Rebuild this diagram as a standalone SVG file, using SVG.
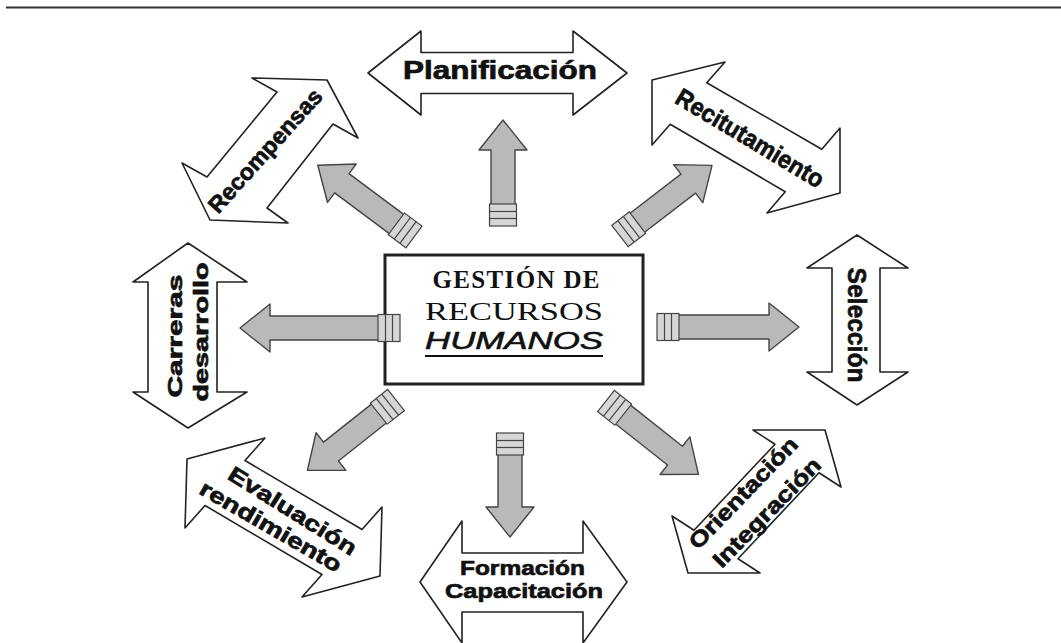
<svg xmlns="http://www.w3.org/2000/svg" xmlns:xlink="http://www.w3.org/1999/xlink" width="1061" height="643" viewBox="0 0 1061 643">
  <style>
    .ring { fill:#fff; stroke:#222; stroke-width:1.6; stroke-linejoin:round; }
    .lbl { font-family:"Liberation Sans", Arial, sans-serif; font-weight:bold; fill:#111; stroke:#111; stroke-width:0.7; }
    .feed { fill:#b9b9b9; stroke:#444; stroke-width:1.4; stroke-linejoin:round; }
    .tail { fill:#d6d6d6; stroke:#444; stroke-width:1.2; }
    .hubtxt { font-family:"Liberation Serif", "Times New Roman", serif; fill:#111; }
  </style>
  <defs>
    <!-- striped tail block shared by every feed arrow (local: tail at x=0, pointing +x) -->
    <g id="tail">
      <rect class="tail" x="0" y="-13.5" width="22" height="27"/>
      <line x1="7.5" y1="-13.5" x2="7.5" y2="13.5" stroke="#444" stroke-width="1.2"/>
      <line x1="14.5" y1="-13.5" x2="14.5" y2="13.5" stroke="#444" stroke-width="1.2"/>
    </g>
  </defs>

  <rect width="1061" height="643" fill="#fff"/>
  <line x1="6" y1="7.5" x2="1061" y2="7.5" stroke="#333" stroke-width="2"/>

  <!-- central box -->
  <g id="hub">
    <rect x="385" y="255" width="258" height="129" fill="#fff" stroke="#222" stroke-width="3"/>
    <text class="hubtxt" x="516" y="288" font-size="25" font-weight="bold" text-anchor="middle" textLength="167" lengthAdjust="spacing">GESTIÓN DE</text>
    <text class="hubtxt" x="514" y="320" font-size="26" text-anchor="middle" textLength="178" lengthAdjust="spacingAndGlyphs">RECURSOS</text>
    <text x="514" y="349" font-family="Liberation Sans, Arial, sans-serif" font-style="italic" font-size="24" fill="#111" stroke="#111" stroke-width="0.6" text-anchor="middle" textLength="178" lengthAdjust="spacingAndGlyphs">HUMANOS</text>
    <line x1="425" y1="356" x2="603" y2="356" stroke="#111" stroke-width="2"/>
  </g>

  <!-- outer double arrows -->
  <g id="planificacion">
    <polygon class="ring" points="368,73 421,31 421,52.5 573,52.5 573,31 627,73 573,115 573,93.5 421,93.5 421,115"/>
    <text class="lbl" x="500" y="78.5" font-size="25" text-anchor="middle" textLength="194" lengthAdjust="spacingAndGlyphs">Planificación</text>
  </g>

  <g id="recitutamiento">
    <polygon class="ring" points="652,80 725,62 706.75,82.75 821.75,149.25 840,128 840,193 767,213 785.25,191.75 670.25,124.25 652,145"/>
    <text class="lbl" transform="translate(745.6,145.5) rotate(31)" font-size="25" text-anchor="middle" textLength="168" lengthAdjust="spacingAndGlyphs">Recitutamiento</text>
  </g>

  <g id="seleccion">
    <polygon class="ring" points="857,235 908,268 880,268 880,372 908,372 857,405 807,372 832,372 832,268 807,268"/>
    <text class="lbl" transform="translate(848,325) rotate(90)" font-size="26" text-anchor="middle" textLength="115" lengthAdjust="spacingAndGlyphs">Selección</text>
  </g>

  <g id="orientacion">
    <polygon class="ring" points="753,430 825,430 841,487 819,472.75 738,558.75 760,573 688,573 672,516 694,530.25 775,444.25"/>
    <text class="lbl" transform="translate(748.7,498.2) rotate(-46)" font-size="22" text-anchor="middle" textLength="146" lengthAdjust="spacingAndGlyphs">Orientación</text>
    <text class="lbl" transform="translate(772.1,517.7) rotate(-45.5)" font-size="22" text-anchor="middle" textLength="144" lengthAdjust="spacingAndGlyphs">Integración</text>
  </g>

  <g id="formacion">
    <polygon class="ring" points="420,582 462,521 462,553 583,553 583,521 627,582 583,643 583,612 462,612 462,643"/>
    <text class="lbl" x="522.5" y="575" font-size="21" text-anchor="middle" textLength="125" lengthAdjust="spacingAndGlyphs">Formación</text>
    <text class="lbl" x="524" y="598" font-size="21" text-anchor="middle" textLength="158" lengthAdjust="spacingAndGlyphs">Capacitación</text>
  </g>

  <g id="evaluacion">
    <polygon class="ring" points="187,459 265,438 245,460.5 362,529.5 382,507 380,576 302,597 322,574.5 205,505.5 185,528"/>
    <text class="lbl" transform="translate(288.5,517.2) rotate(32)" font-size="22" text-anchor="middle" textLength="147" lengthAdjust="spacingAndGlyphs">Evaluación</text>
    <text class="lbl" transform="translate(267,533) rotate(30)" font-size="22" text-anchor="middle" textLength="160" lengthAdjust="spacingAndGlyphs">rendimiento</text>
  </g>

  <g id="carreras">
    <polygon class="ring" points="188,243 247,282 217,282 217,392 247,392 188,428 133,392 148,392 148,282 133,282"/>
    <text class="lbl" transform="translate(182,336) rotate(-90)" font-size="21" text-anchor="middle" textLength="123" lengthAdjust="spacingAndGlyphs">Carreras</text>
    <text class="lbl" transform="translate(208,332) rotate(-90)" font-size="20" text-anchor="middle" textLength="139" lengthAdjust="spacingAndGlyphs">desarrollo</text>
  </g>

  <g id="recompensas">
    <polygon class="ring" points="327,80 358,138 333,124 267,208 288,223 210,220 182,163 207,177 277,92 252,78"/>
    <text class="lbl" transform="translate(271,156) rotate(-48)" font-size="23" text-anchor="middle" textLength="158" lengthAdjust="spacingAndGlyphs">Recompensas</text>
  </g>

  <!-- gray feed arrows from the central box -->
  <g id="connectors">
    <g transform="translate(503,226) rotate(-90)">
      <path class="feed" d="M21,-12 H76 V-24 L106,0 L76,24 V12 H21 Z"/>
      <use xlink:href="#tail"/>
    </g>
    <g transform="translate(510,433) rotate(90)">
      <path class="feed" d="M21,-12 H74 V-24 L104,0 L74,24 V12 H21 Z"/>
      <use xlink:href="#tail"/>
    </g>
    <g transform="translate(400,328) rotate(180)">
      <path class="feed" d="M21,-12 H130 V-24 L160,0 L130,24 V12 H21 Z"/>
      <use xlink:href="#tail"/>
    </g>
    <g transform="translate(657,327)">
      <path class="feed" d="M21,-12 H112 V-24 L142,0 L112,24 V12 H21 Z"/>
      <use xlink:href="#tail"/>
    </g>
    <g transform="translate(414,237) rotate(-143.3)">
      <path class="feed" d="M21,-12 H90 V-24 L120,0 L90,24 V12 H21 Z"/>
      <use xlink:href="#tail"/>
    </g>
    <g transform="translate(620,236) rotate(-37.5)">
      <path class="feed" d="M21,-12 H86 V-24 L116,0 L86,24 V12 H21 Z"/>
      <use xlink:href="#tail"/>
    </g>
    <g transform="translate(396,400) rotate(141.6)">
      <path class="feed" d="M21,-12 H83 V-24 L113,0 L83,24 V12 H21 Z"/>
      <use xlink:href="#tail"/>
    </g>
    <g transform="translate(606,401) rotate(38.4)">
      <path class="feed" d="M21,-12 H88 V-24 L118,0 L88,24 V12 H21 Z"/>
      <use xlink:href="#tail"/>
    </g>
  </g>
</svg>
